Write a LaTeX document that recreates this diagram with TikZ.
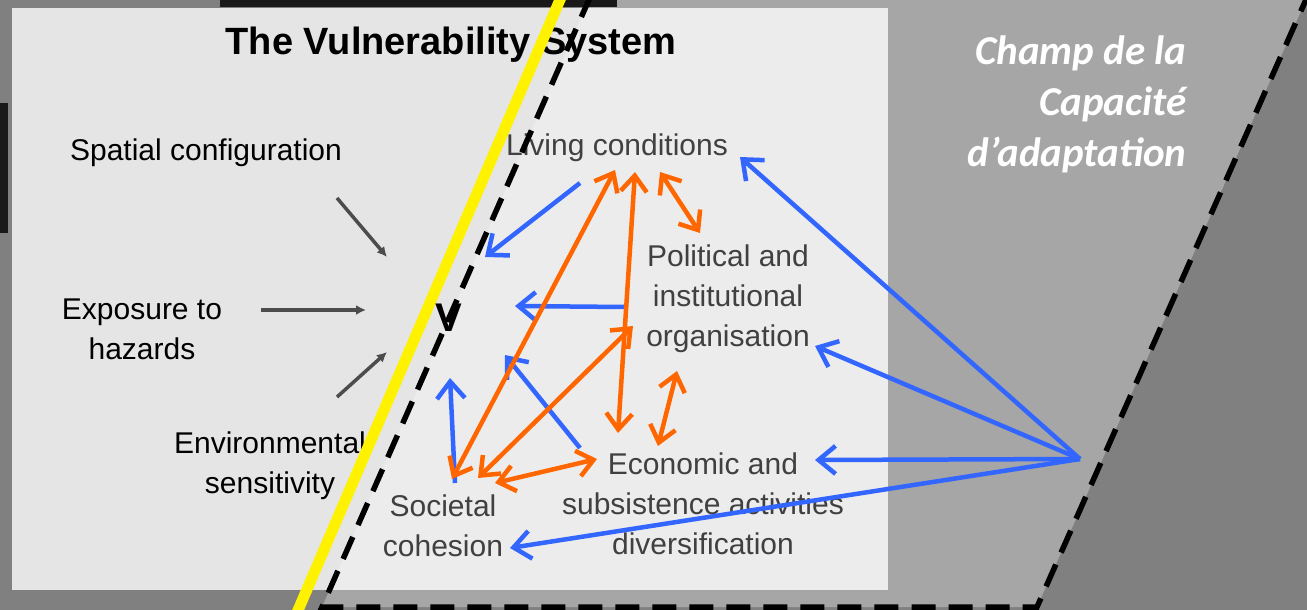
\documentclass[tikz,border=0pt]{standalone}
\usepackage{fontspec}
\setmainfont{Liberation Sans}
\newfontfamily\champfont{Carlito}
\usepackage{tikz}
\usetikzlibrary{positioning}
\usetikzlibrary{arrows.meta}
\definecolor{bgdark}{HTML}{808080}
\definecolor{bglight}{HTML}{A6A6A6}
\definecolor{boxleft}{HTML}{E5E5E5}
\definecolor{boxright}{HTML}{ECECEC}
\definecolor{vblue}{HTML}{3366FF}
\definecolor{vorange}{HTML}{FF6600}
\tikzstyle{factor}=[font=\fontsize{30}{40}\selectfont, align=center, inner sep=0pt]
\tikzstyle{rightfactor}=[factor, text=black!75]
\tikzstyle{blueedge} = [draw, line width=4.5pt, vblue, -{Straight Barb[length=17pt,width=28pt]}]
\tikzstyle{orangeedge} = [draw, line width=4.5pt, vorange, {Straight Barb[length=16pt,width=26pt]}-{Straight Barb[length=16pt,width=26pt]}]
\tikzstyle{blackedge} = [draw, line width=3.5pt, black!70, -{Latex[length=10pt,width=10pt]}]

\begin{document}
\begin{tikzpicture}[x=1pt, y=-1pt]
    \useasboundingbox (0,0) rectangle (1307,610);
    \fill[bgdark] (0,0) rectangle (1307,610);

    % champ de la capacite
    \fill[bglight] (589,0) -- (1306,0) -- (1037,607) -- (322,607) -- cycle;

    % the system box
    \fill[boxleft] (12,8) rectangle (888,590);
    \begin{scope}
        \clip (589,0) -- (1306,0) -- (1037,607) -- (322,607) -- cycle;
        \fill[boxright] (12,8) rectangle (888,590);
    \end{scope}
    \fill[black!90] (220,0) rectangle (617,7);
    \fill[black!90] (0,103) rectangle (8,233);

    \node[font=\bfseries\fontsize{38}{40}\selectfont] (title) at (451,45) {The Vulnerability System};

    \node[factor] (spatial) at (206,153) {Spatial configuration};
    \node[factor] (exposure) at (142,329) {Exposure to\\hazards};
    \node[factor] (sensitivity) at (270,466) {Environmental\\sensitivity};

    \node[rightfactor] (living) at (617,148) {Living conditions};
    \node[rightfactor] (political) at (728,299) {Political and\\institutional\\organisation};
    \node[rightfactor] (economic) at (703,504) {Economic and\\subsistence activities\\diversification};
    \node[rightfactor] (social) at (443,526) {Societal\\cohesion};

    \node[font=\champfont\bfseries\itshape\fontsize{41}{51}\selectfont, text=white, align=right, anchor=east] (champ) at (1190,104) {Champ de la\\Capacité\\d’adaptation};

    \coordinate (hub) at (1080,459);

    % field limits
    \draw[yellow, line width=11pt] (562,-5) -- (296,615);
    \draw[line width=5.5pt, dash pattern=on 24pt off 13pt] (591,-5) -- (322,607) -- (1037,607) -- (1308,-5);

    \node[font=\bfseries\fontsize{40}{40}\selectfont] (vuln) at (449,318) {V};

    % factors -> V
    \foreach \source/\sx/\sy/\dx/\dy in {spatial/131/45/-62/-61, exposure/119/-19/-83/-8, sensitivity/67/-69/-62/34}
        \path[blackedge] ([shift={(\sx,\sy)}]\source.center) -- ([shift={(\dx,\dy)}]vuln.center);

    \foreach \source/\sx/\sy/\dx/\dy in {living/-37/35/36/-61, political/-103/8/66/-12, economic/-123/-56/56/37, social/12/-43/1/60}
        \path[blueedge] ([shift={(\sx,\sy)}]\source.center) -- ([shift={(\dx,\dy)}]vuln.center);

    % adaptive capacity
    \foreach \dest/\dx/\dy in {living/123/9, political/87/47, economic/112/-44, social/67/22}
        \path[blueedge] (hub) -- ([shift={(\dx,\dy)}]\dest.center);

    % interactions
    \foreach \source/\sx/\sy/\dest/\dx/\dy in {social/9/-47/living/-2/22, living/18/24/economic/-85/-71, living/43/24/political/-28/-66, political/-95/27/social/35/-48, political/-51/72/economic/-45/-58, social/52/-43/economic/-106/-45}
        \path[orangeedge] ([shift={(\sx,\sy)}]\source.center) -- ([shift={(\dx,\dy)}]\dest.center);

\end{tikzpicture}
\end{document}
